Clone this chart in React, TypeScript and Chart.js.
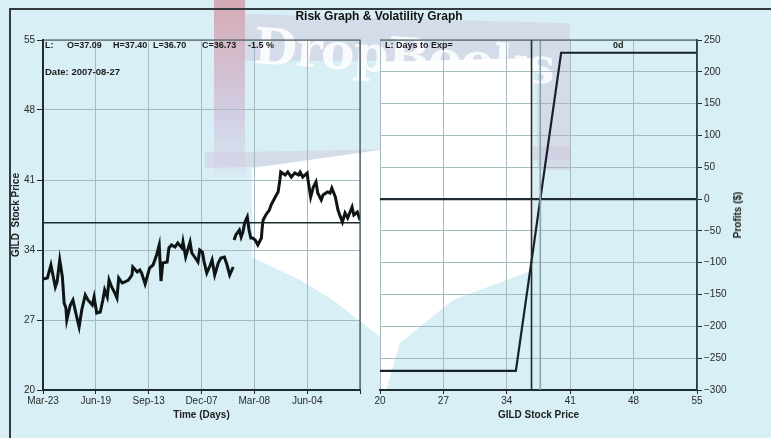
import React, { useEffect, useRef } from 'react';
import { Chart, registerables } from 'chart.js';

Chart.register(...registerables);

// ---------- data ----------
const timeTickDays = [0, 60, 120, 180, 240, 300, 360];
const timeTickLabels = ['Mar-23', 'Jun-19', 'Sep-13', 'Dec-07', 'Mar-08', 'Jun-04', ''];
const priceTicks = [20, 27, 34, 41, 48, 55];

const segment1Days = [0, 5, 9, 14, 16, 19, 22, 24, 26, 27, 31, 34, 37, 41, 44, 48, 51, 56, 58, 61, 65, 68, 70, 73, 75, 78, 81, 84, 86, 90, 93, 97, 101, 102, 107, 110, 112, 116, 121, 125, 129, 132, 134, 136, 141, 143, 146, 150, 153, 158, 159, 162, 165, 167, 169, 173, 176, 178, 181, 183, 186, 190, 192, 195, 199, 202, 206, 209, 212, 216];
const segment1Prices = [31.1, 31.2, 32.5, 30.3, 30.8, 33.0, 31.3, 28.7, 28.2, 27.0, 28.5, 29.0, 27.8, 26.3, 28.0, 29.5, 29.0, 28.5, 29.3, 27.7, 27.8, 29.0, 30.0, 29.3, 31.0, 30.3, 29.8, 29.2, 31.2, 30.7, 30.8, 31.0, 31.5, 32.3, 31.8, 32.0, 31.7, 30.6, 32.2, 32.5, 33.5, 34.5, 30.9, 32.7, 32.8, 34.2, 34.5, 34.3, 34.7, 34.2, 34.8, 33.3, 34.2, 34.8, 33.7, 33.2, 32.8, 34.0, 33.8, 32.8, 31.7, 32.5, 33.0, 31.5, 32.7, 33.2, 33.3, 32.5, 31.5, 32.3];

const segment2Days = [217, 219, 223, 225, 227, 229, 232, 234, 236, 238, 241, 244, 248, 249, 250, 253, 257, 259, 262, 265, 267, 269, 270, 275, 278, 282, 286, 290, 292, 295, 300, 301, 304, 307, 310, 312, 316, 318, 323, 326, 328, 332, 335, 337, 340, 343, 346, 351, 353, 357, 360];
const segment2Prices = [35.0, 35.5, 36.0, 35.3, 35.8, 36.7, 37.3, 36.0, 35.2, 35.2, 35.0, 34.5, 35.2, 36.3, 37.0, 37.5, 38.0, 38.5, 39.0, 39.5, 39.8, 41.0, 41.8, 41.5, 41.8, 41.3, 41.7, 41.5, 41.8, 41.3, 41.7, 41.0, 39.3, 40.3, 40.8, 39.7, 39.0, 39.5, 39.8, 39.7, 40.2, 39.3, 38.0, 37.5, 36.8, 37.7, 37.2, 38.3, 37.5, 37.8, 37.0];

const currentPrice = 36.73;
const breakevenPrice = 37.7;

const riskPrices = [20, 35, 40, 55];
const riskProfits = [-270, -270, 230, 230];
const riskPriceTicks = [20, 27, 34, 41, 48, 55];

// ---------- styles ----------
const DARK = '#1e2c31';
const GRID = '#a6bac1';
const TEXT = '#2a2a2a';
const FONT = "'Liberation Sans', Arial, sans-serif";

const plotFrame = {
  id: 'plotFrame',
  afterDraw(chart: any) {
    const { ctx, chartArea: a } = chart;
    ctx.save();
    ctx.strokeStyle = '#3a4b51';
    ctx.lineWidth = 1.2;
    ctx.beginPath();
    ctx.moveTo(a.left, a.top);
    ctx.lineTo(a.right, a.top);
    ctx.lineTo(a.right, a.bottom);
    ctx.stroke();
    ctx.restore();
  },
};

const pts = (xs: number[], ys: number[]) => xs.map((x, i) => ({ x, y: ys[i] }));

function makeLeftConfig(): any {
  return {
    type: 'line',
    data: {
      datasets: [
        { data: pts(segment1Days, segment1Prices), borderColor: '#0f1415', borderWidth: 3, pointRadius: 0, tension: 0, borderJoinStyle: 'miter' },
        { data: pts(segment2Days, segment2Prices), borderColor: '#0f1415', borderWidth: 3, pointRadius: 0, tension: 0, borderJoinStyle: 'miter' },
        { data: [{ x: 0, y: currentPrice }, { x: 360, y: currentPrice }], borderColor: DARK, borderWidth: 1.6, pointRadius: 0 },
      ],
    },
    options: {
      animation: false,
      responsive: false,
      maintainAspectRatio: false,
      layout: { padding: { left: 0, right: 2, top: 40, bottom: 13 } },
      plugins: { legend: { display: false }, tooltip: { enabled: false } },
      scales: {
        x: {
          type: 'linear',
          min: 0,
          max: 360,
          afterBuildTicks: (s: any) => { s.ticks = timeTickDays.map((v) => ({ value: v })); },
          afterFit: (s: any) => { s.height = 35; },
          ticks: {
            callback: (v: number) => timeTickLabels[timeTickDays.indexOf(v)] ?? '',
            autoSkip: false, maxRotation: 0, color: TEXT, padding: 1,
            font: { size: 10, family: FONT },
          },
          grid: { color: GRID, lineWidth: 1, tickLength: 4, tickColor: DARK },
          border: { color: DARK, width: 2 },
          title: { display: true, text: 'Time (Days)', color: '#222', font: { size: 10, weight: 'bold', family: FONT }, padding: { top: 0, bottom: 4 } },
        },
        y: {
          min: 20,
          max: 55,
          afterBuildTicks: (s: any) => { s.ticks = priceTicks.map((v) => ({ value: v })); },
          afterFit: (s: any) => { s.width = 43; },
          ticks: { color: TEXT, padding: 2, font: { size: 10, family: FONT } },
          grid: { color: GRID, lineWidth: 1, tickLength: 6, tickColor: DARK },
          border: { color: DARK, width: 2 },
          title: { display: true, text: 'GILD  Stock Price', color: '#222', font: { size: 10, weight: 'bold', family: FONT }, padding: { top: 10, bottom: 0 } },
        },
      },
    },
    plugins: [plotFrame],
  };
}

function makeRightConfig(): any {
  return {
    type: 'line',
    data: {
      datasets: [
        { data: [{ x: breakevenPrice, y: -300 }, { x: breakevenPrice, y: 250 }], borderColor: '#8da3aa', borderWidth: 1.6, pointRadius: 0 },
        { data: [{ x: currentPrice, y: -300 }, { x: currentPrice, y: 250 }], borderColor: DARK, borderWidth: 1.6, pointRadius: 0 },
        { data: [{ x: 20, y: 0 }, { x: 55, y: 0 }], borderColor: DARK, borderWidth: 2.4, pointRadius: 0 },
        { data: pts(riskPrices, riskProfits), borderColor: '#172226', borderWidth: 2.2, pointRadius: 0, tension: 0 },
      ],
    },
    options: {
      animation: false,
      responsive: false,
      maintainAspectRatio: false,
      layout: { padding: { left: 18, right: 24, top: 40, bottom: 13 } },
      plugins: { legend: { display: false }, tooltip: { enabled: false } },
      scales: {
        x: {
          type: 'linear',
          min: 20,
          max: 55,
          afterBuildTicks: (s: any) => { s.ticks = riskPriceTicks.map((v) => ({ value: v })); },
          afterFit: (s: any) => { s.height = 35; },
          ticks: { autoSkip: false, maxRotation: 0, color: TEXT, padding: 1, font: { size: 10, family: FONT } },
          grid: { color: GRID, lineWidth: 1, tickLength: 4, tickColor: DARK },
          border: { color: DARK, width: 2 },
          title: { display: true, text: 'GILD Stock Price', color: '#222', font: { size: 10, weight: 'bold', family: FONT }, padding: { top: 0, bottom: 4 } },
        },
        y: {
          position: 'right',
          min: -300,
          max: 250,
          ticks: {
            stepSize: 50, color: TEXT, padding: 2, font: { size: 10, family: FONT },
            callback: (v: number) => String(v).replace('-', '\u2212'),
          },
          afterFit: (s: any) => { s.width = 50; },
          grid: { color: GRID, lineWidth: 1, tickLength: 5, tickColor: DARK },
          border: { color: DARK, width: 1.6 },
        },
      },
    },
    plugins: [plotFrame],
  };
}

function ChartCanvas({ config, left, width }: { config: () => any; left: number; width: number }) {
  const ref = useRef<HTMLCanvasElement | null>(null);
  useEffect(() => {
    if (!ref.current) return;
    const chart = new Chart(ref.current, config());
    return () => chart.destroy();
  }, []);
  return (
    <canvas
      ref={ref}
      width={width}
      height={438}
      style={{ position: 'absolute', left, top: 0, width, height: 438 }}
    />
  );
}

const abs = (extra: React.CSSProperties): React.CSSProperties => ({ position: 'absolute', ...extra });
const hdr: React.CSSProperties = { fontFamily: FONT, fontWeight: 'bold', fontSize: 9, color: '#1a1a1a', whiteSpace: 'pre', lineHeight: '12px' };

export default function App() {
  return (
    <div style={{ position: 'fixed', left: 0, top: 0, width: 771, height: 438, overflow: 'hidden', background: '#d7eff5', fontFamily: FONT }}>
      {/* watermark decoration */}
      <div style={abs({ left: 214, top: 0, width: 31, height: 175, background: 'linear-gradient(rgba(212,140,152,0.7), rgba(205,178,212,0.55) 65%, rgba(215,200,225,0.15))' })} />
      <div style={abs({ left: 245, top: 14, width: 325, height: 156, background: 'rgba(208,188,215,0.38)', clipPath: 'polygon(0% 0%, 100% 6%, 100% 100%, 90% 100%, 90% 30%, 0% 30%)' })} />
      <div style={abs({ left: 205, top: 146, width: 365, height: 22, background: 'rgba(208,188,215,0.38)', clipPath: 'polygon(0% 30%, 100% 0%, 100% 60%, 0% 100%)' })} />
      <div style={abs({ left: 252, top: 150, width: 128, height: 200, background: '#ffffff', clipPath: 'polygon(0px 18px, 128px 0px, 128px 187px, 81px 150px, 48px 130px, 6px 110px, 0px 108px)' })} />
      <div style={abs({ left: 380, top: 58, width: 155, height: 332, background: '#ffffff', clipPath: 'polygon(0px 4px, 153px 0px, 153px 212px, 73px 242px, 20px 285px, 6px 332px, 0px 332px)' })} />
      <div style={abs({ left: 256, top: 16, fontFamily: "'DejaVu Serif', serif", fontWeight: 'bold', fontSize: 50, letterSpacing: -1, color: 'rgba(255,255,255,0.85)', transform: 'rotate(4deg)', transformOrigin: 'left top', whiteSpace: 'pre' })}>DropBooks</div>

      {/* outer frame */}
      <div style={abs({ left: 9, top: 8, width: 762, height: 430, borderTop: '2px solid #333b3e', borderLeft: '2px solid #333b3e' })} />

      <ChartCanvas config={makeLeftConfig} left={0} width={362} />
      <ChartCanvas config={makeRightConfig} left={362} width={409} />

      <div style={abs({ left: 0, top: 9, width: 758, textAlign: 'center', fontWeight: 'bold', fontSize: 12, lineHeight: '14px', color: '#111' })}>Risk Graph &amp; Volatility Graph</div>

      <div style={abs({ ...hdr, left: 45, top: 39 })}>L:</div>
      <div style={abs({ ...hdr, left: 67, top: 39 })}>O=37.09</div>
      <div style={abs({ ...hdr, left: 113, top: 39 })}>H=37.40</div>
      <div style={abs({ ...hdr, left: 153, top: 39 })}>L=36.70</div>
      <div style={abs({ ...hdr, left: 202, top: 39 })}>C=36.73</div>
      <div style={abs({ ...hdr, left: 248, top: 39 })}>-1.5 %</div>
      <div style={abs({ ...hdr, left: 45, top: 66, fontSize: 9.5 })}>Date: 2007-08-27</div>

      <div style={abs({ ...hdr, left: 385, top: 39 })}>L: Days to Exp=</div>
      <div style={abs({ ...hdr, left: 613, top: 39 })}>0d</div>

      <div style={abs({ left: 738, top: 215, fontWeight: 'bold', fontSize: 10, color: '#222', whiteSpace: 'pre', transform: 'translate(-50%, -50%) rotate(-90deg)', lineHeight: '12px' })}>Profits ($)</div>
    </div>
  );
}
